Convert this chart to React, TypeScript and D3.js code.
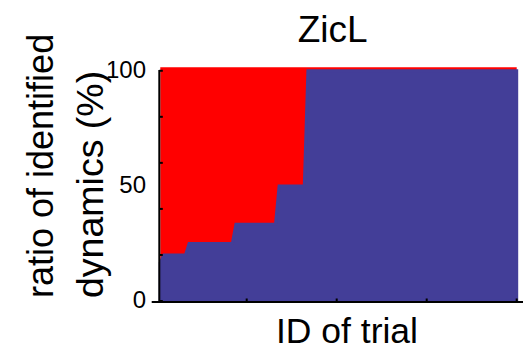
import React from "react";
import * as d3 from "d3";

// ---- data ----
const trialIds: number[] = Array.from({ length: 100 }, (_, i) => i + 1);
const identifiedRatio: number[] = [
  16.7, 20, 20, 20, 20, 20, 20, 20, 25, 25,
  25, 25, 25, 25, 25, 25, 25, 25, 25, 25,
  25, 33.3, 33.3, 33.3, 33.3, 33.3, 33.3, 33.3, 33.3, 33.3,
  33.3, 33.3, 33.3, 50, 50, 50, 50, 50, 50, 50,
  50, 100, 100, 100, 100, 100, 100, 100, 100, 100,
  100, 100, 100, 100, 100, 100, 100, 100, 100, 100,
  100, 100, 100, 100, 100, 100, 100, 100, 100, 100,
  100, 100, 100, 100, 100, 100, 100, 100, 100, 100,
  100, 100, 100, 100, 100, 100, 100, 100, 100, 100,
  100, 100, 100, 100, 100, 100, 100, 100, 100, 100,
];
const yTicks: number[] = [0, 20, 40, 60, 80, 100];
const yTickLabels: number[] = [0, 50, 100];
const xTicks: number[] = [25, 50, 75, 100];
const yMax = 101.5;

const title = "ZicL";
const xLabel = "ID of trial";
const yLabelLines = ["ratio of identified", "dynamics (%)"];

// ---- layout ----
const W = 524;
const H = 350;
const FONT = "'Liberation Sans', Arial, Helvetica, sans-serif";
const BLUE = "#433E98";
const RED = "#FF0000";

export default function App() {
  const x = d3.scaleLinear().domain([0, 100]).range([156.7, 516.7]);
  const y = d3.scaleLinear().domain([0, yMax]).range([301, 67.3]);

  const data = trialIds.map((t, i) => ({ t, v: identifiedRatio[i] }));

  const redArea = d3
    .area<{ t: number; v: number }>()
    .x((d) => x(d.t))
    .y0(y(0))
    .y1(y(yMax));
  const blueArea = d3
    .area<{ t: number; v: number }>()
    .x((d) => x(d.t))
    .y0(y(0))
    .y1((d) => y(d.v));

  const axisX = 159.3;
  const axisY = 302;

  return (
    <svg
      width={W}
      height={H}
      style={{ position: "absolute", left: 0, top: 0, background: "#fff" }}
      fontFamily={FONT}
    >
      <path d={redArea(data) || ""} fill={RED} />
      <path
        d={blueArea(data) || ""}
        fill={BLUE}
        stroke={BLUE}
        strokeWidth={3}
      />

      {/* y axis */}
      <line x1={axisX} x2={axisX} y1={70} y2={axisY + 1} stroke="#000" strokeWidth={2} />
      {yTicks.map((t) => (
        <line
          key={"yt" + t}
          x1={axisX}
          x2={axisX + 3.5}
          y1={y(t)}
          y2={y(t)}
          stroke="#000"
          strokeWidth={2}
        />
      ))}
      {yTickLabels.map((t) => (
        <text
          key={"yl" + t}
          x={146}
          y={y(t)}
          dy="0.3em"
          textAnchor="end"
          fontSize={24}
          fill="#000"
        >
          {t}
        </text>
      ))}

      {/* x axis */}
      <line x1={151.7} x2={523} y1={axisY} y2={axisY} stroke="#000" strokeWidth={2} />
      {xTicks.map((t) => (
        <line
          key={"xt" + t}
          x1={x(t)}
          x2={x(t)}
          y1={axisY}
          y2={axisY - 3.5}
          stroke="#000"
          strokeWidth={2}
        />
      ))}

      {/* title */}
      <text x={332.7} y={41.5} textAnchor="middle" fontSize={37} fill="#000">
        {title}
      </text>

      {/* x label */}
      <text x={347} y={342.5} textAnchor="middle" fontSize={35.5} fill="#000">
        {xLabel}
      </text>

      {/* y label */}
      <text
        transform="translate(53,298) rotate(-90)"
        textAnchor="start"
        fontSize={36}
        fill="#000"
      >
        {yLabelLines.map((line, i) => (
          <tspan key={i} x={0} dy={i === 0 ? 0 : 50} fontSize={i === 0 ? 36 : 37.5}>
            {line}
          </tspan>
        ))}
      </text>
    </svg>
  );
}
